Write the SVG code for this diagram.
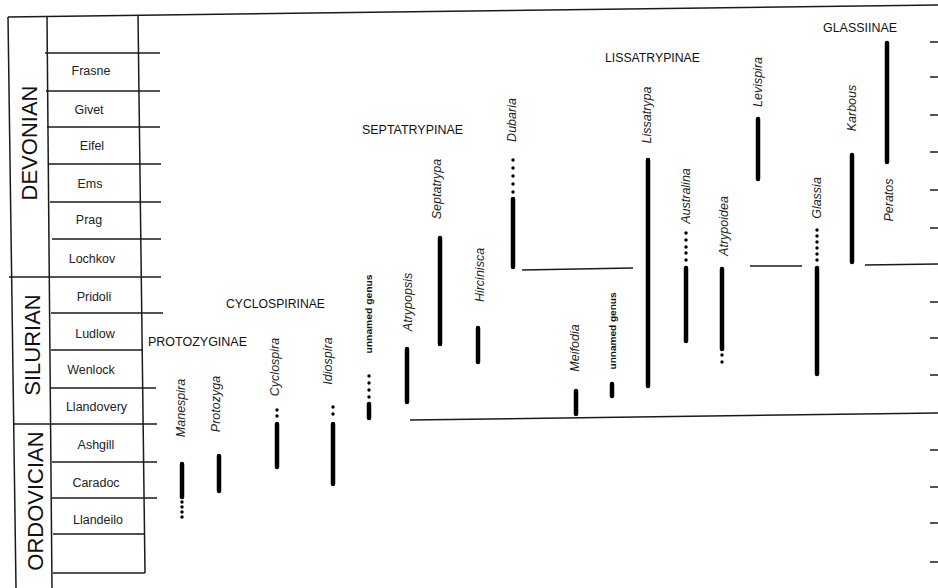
<svg xmlns="http://www.w3.org/2000/svg" width="938" height="588" viewBox="0 0 938 588">
<style>
.ln{stroke:#1a1a1a;stroke-width:1.5;fill:none}
.bar{stroke:#000;stroke-width:4.5;stroke-linecap:round}
.dot{fill:#000}
.era{font-family:"Liberation Sans",Arial,sans-serif;font-size:22px;fill:#111;text-anchor:middle}
.stg{font-family:"Liberation Sans",Arial,sans-serif;font-size:12.5px;fill:#222;text-anchor:middle}
.fam{font-family:"Liberation Sans",Arial,sans-serif;font-size:12px;fill:#111}
.gen{font-family:"Liberation Sans",Arial,sans-serif;font-size:12.5px;font-style:italic;fill:#222;text-anchor:middle}
.ung{font-family:"Liberation Sans",Arial,sans-serif;font-size:9px;font-weight:bold;fill:#111;text-anchor:middle}
</style>
<rect width="938" height="588" fill="#fff"/>

<g id="timescale">
  <line class="ln" x1="8" y1="17" x2="938" y2="5"/>
  <line class="ln" x1="8" y1="17" x2="16" y2="588"/>
  <line class="ln" x1="47" y1="17" x2="52" y2="588"/>
  <line class="ln" x1="138" y1="15" x2="145" y2="573"/>
  <line class="ln" x1="45" y1="53" x2="160" y2="53"/>
  <line class="ln" x1="46" y1="91" x2="160" y2="91"/>
  <line class="ln" x1="47" y1="127" x2="160" y2="127"/>
  <line class="ln" x1="49" y1="164" x2="161" y2="164"/>
  <line class="ln" x1="50" y1="202" x2="161" y2="202"/>
  <line class="ln" x1="52" y1="239" x2="161" y2="239"/>
  <line class="ln" x1="9" y1="277" x2="161" y2="277"/>
  <line class="ln" x1="51" y1="313" x2="163" y2="313"/>
  <line class="ln" x1="51" y1="350" x2="143" y2="350"/>
  <line class="ln" x1="51" y1="388" x2="156" y2="388"/>
  <line class="ln" x1="13" y1="424" x2="157" y2="424"/>
  <line class="ln" x1="52" y1="462" x2="157" y2="462"/>
  <line class="ln" x1="52" y1="498" x2="157" y2="498"/>
  <line class="ln" x1="53" y1="534" x2="145" y2="534"/>
  <line class="ln" x1="53" y1="573" x2="145" y2="573"/>
  <text class="era" transform="translate(37,143) rotate(-90)">DEVONIAN</text>
  <text class="era" transform="translate(40,345) rotate(-90)">SILURIAN</text>
  <text class="era" transform="translate(43,501) rotate(-90)">ORDOVICIAN</text>
  <text class="stg" x="91" y="75">Frasne</text>
  <text class="stg" x="89" y="114">Givet</text>
  <text class="stg" x="92" y="149.5">Eifel</text>
  <text class="stg" x="90" y="187.5">Ems</text>
  <text class="stg" x="89" y="224">Prag</text>
  <text class="stg" x="92" y="262.5">Lochkov</text>
  <text class="stg" x="94" y="300.5">Pridoli</text>
  <text class="stg" x="95" y="337.5">Ludlow</text>
  <text class="stg" x="91" y="373.5">Wenlock</text>
  <text class="stg" x="96.5" y="410.5">Llandovery</text>
  <text class="stg" x="96" y="448.5">Ashgill</text>
  <text class="stg" x="96" y="486.5">Caradoc</text>
  <text class="stg" x="98" y="523.5">Llandeilo</text>
</g>

<g id="connectors">
  <line class="ln" x1="522" y1="270" x2="633" y2="268"/>
  <line class="ln" x1="750" y1="266" x2="802" y2="266"/>
  <line class="ln" x1="865" y1="265" x2="938" y2="264"/>
  <line class="ln" x1="410" y1="420" x2="938" y2="413"/>
  <g id="right-ticks">
    <line class="ln" x1="930" y1="42" x2="938" y2="42"/>
    <line class="ln" x1="930" y1="77" x2="938" y2="77"/>
    <line class="ln" x1="930" y1="115" x2="938" y2="115"/>
    <line class="ln" x1="930" y1="152" x2="938" y2="152"/>
    <line class="ln" x1="930" y1="190" x2="938" y2="190"/>
    <line class="ln" x1="930" y1="228" x2="938" y2="228"/>
    <line class="ln" x1="930" y1="302" x2="938" y2="302"/>
    <line class="ln" x1="930" y1="338" x2="938" y2="338"/>
    <line class="ln" x1="930" y1="375" x2="938" y2="375"/>
    <line class="ln" x1="930" y1="450" x2="938" y2="450"/>
    <line class="ln" x1="930" y1="487" x2="938" y2="487"/>
    <line class="ln" x1="930" y1="523" x2="938" y2="523"/>
    <line class="ln" x1="930" y1="562" x2="938" y2="562"/>
  </g>
</g>

<g id="families">
  <text class="fam" x="148" y="346" textLength="99" lengthAdjust="spacingAndGlyphs">PROTOZYGINAE</text>
  <text class="fam" x="226" y="308" textLength="99" lengthAdjust="spacingAndGlyphs">CYCLOSPIRINAE</text>
  <text class="fam" x="362" y="133.5" textLength="101" lengthAdjust="spacingAndGlyphs">SEPTATRYPINAE</text>
  <text class="fam" x="605" y="61.5" textLength="95" lengthAdjust="spacingAndGlyphs">LISSATRYPINAE</text>
  <text class="fam" x="823" y="31.5" textLength="74" lengthAdjust="spacingAndGlyphs">GLASSIINAE</text>
</g>

<g id="manespira">
  <text class="gen" transform="translate(185,408) rotate(-90)">Manespira</text>
  <line class="bar" x1="182" y1="464" x2="182" y2="497"/>
  <circle class="dot" cx="182" cy="502" r="1.7"/><circle class="dot" cx="182" cy="507" r="1.7"/>
  <circle class="dot" cx="182" cy="512" r="1.7"/><circle class="dot" cx="182" cy="517" r="1.7"/>
</g>
<g id="protozyga">
  <text class="gen" transform="translate(220,404) rotate(-90)">Protozyga</text>
  <line class="bar" x1="219" y1="456" x2="219" y2="491"/>
</g>
<g id="cyclospira">
  <text class="gen" transform="translate(279,367) rotate(-90)">Cyclospira</text>
  <circle class="dot" cx="277" cy="410" r="1.7"/><circle class="dot" cx="277" cy="416" r="1.7"/>
  <line class="bar" x1="277" y1="424" x2="277" y2="467"/>
</g>
<g id="idiospira">
  <text class="gen" transform="translate(332,361) rotate(-90)">Idiospira</text>
  <circle class="dot" cx="333" cy="407" r="1.7"/><circle class="dot" cx="333" cy="414" r="1.7"/>
  <line class="bar" x1="333" y1="424" x2="333" y2="484"/>
</g>
<g id="unnamed-genus-1">
  <text class="ung" transform="translate(372,314) rotate(-90)" textLength="79" lengthAdjust="spacingAndGlyphs">unnamed genus</text>
  <circle class="dot" cx="369" cy="376" r="1.7"/><circle class="dot" cx="369" cy="383" r="1.7"/>
  <circle class="dot" cx="369" cy="390" r="1.7"/><circle class="dot" cx="369" cy="397" r="1.7"/>
  <line class="bar" x1="369" y1="404" x2="369" y2="418"/>
</g>
<g id="atrypopsis">
  <text class="gen" transform="translate(412,302) rotate(-90)">Atrypopsis</text>
  <line class="bar" x1="407" y1="349" x2="407" y2="402"/>
</g>
<g id="septatrypa">
  <text class="gen" transform="translate(441,189) rotate(-90)">Septatrypa</text>
  <line class="bar" x1="440" y1="238" x2="440" y2="344"/>
</g>
<g id="hircinisca">
  <text class="gen" transform="translate(484,275) rotate(-90)">Hircinisca</text>
  <line class="bar" x1="478" y1="328" x2="478" y2="362"/>
</g>
<g id="dubaria">
  <text class="gen" transform="translate(516,120) rotate(-90)">Dubaria</text>
  <circle class="dot" cx="513" cy="160" r="1.7"/><circle class="dot" cx="513" cy="168" r="1.7"/>
  <circle class="dot" cx="513" cy="176" r="1.7"/><circle class="dot" cx="513" cy="184" r="1.7"/>
  <circle class="dot" cx="513" cy="192" r="1.7"/>
  <line class="bar" x1="513" y1="199" x2="513" y2="267"/>
</g>
<g id="meifodia">
  <text class="gen" transform="translate(579,348) rotate(-90)">Meifodia</text>
  <line class="bar" x1="576" y1="391" x2="576" y2="414"/>
</g>
<g id="unnamed-genus-2">
  <text class="ung" transform="translate(616,331) rotate(-90)" textLength="77" lengthAdjust="spacingAndGlyphs">unnamed genus</text>
  <line class="bar" x1="612" y1="384" x2="612" y2="396"/>
</g>
<g id="lissatrypa">
  <text class="gen" transform="translate(651,115) rotate(-90)">Lissatrypa</text>
  <line class="bar" x1="648" y1="160" x2="648" y2="386"/>
</g>
<g id="australina">
  <text class="gen" transform="translate(690,196) rotate(-90)">Australina</text>
  <circle class="dot" cx="686" cy="233" r="1.7"/><circle class="dot" cx="686" cy="240" r="1.7"/>
  <circle class="dot" cx="686" cy="247" r="1.7"/><circle class="dot" cx="686" cy="253" r="1.7"/>
  <circle class="dot" cx="686" cy="260" r="1.7"/>
  <line class="bar" x1="686" y1="268" x2="686" y2="341"/>
</g>
<g id="atrypoidea">
  <text class="gen" transform="translate(728,226) rotate(-90)">Atrypoidea</text>
  <line class="bar" x1="722" y1="269" x2="722" y2="349"/>
  <circle class="dot" cx="722" cy="355" r="1.7"/><circle class="dot" cx="722" cy="362" r="1.7"/>
</g>
<g id="levispira">
  <text class="gen" transform="translate(762,82) rotate(-90)">Levispira</text>
  <line class="bar" x1="758" y1="119" x2="758" y2="179"/>
</g>
<g id="glassia">
  <text class="gen" transform="translate(821,198) rotate(-90)">Glassia</text>
  <circle class="dot" cx="817" cy="230" r="1.7"/><circle class="dot" cx="817" cy="236" r="1.7"/>
  <circle class="dot" cx="817" cy="242" r="1.7"/><circle class="dot" cx="817" cy="248" r="1.7"/>
  <circle class="dot" cx="817" cy="254" r="1.7"/><circle class="dot" cx="817" cy="260" r="1.7"/>
  <line class="bar" x1="817" y1="268" x2="817" y2="374"/>
</g>
<g id="karbous">
  <text class="gen" transform="translate(856,108) rotate(-90)">Karbous</text>
  <line class="bar" x1="852" y1="155" x2="852" y2="262"/>
</g>
<g id="peratos">
  <text class="gen" transform="translate(893,200) rotate(-90)">Peratos</text>
  <line class="bar" x1="887" y1="43" x2="887" y2="162"/>
</g>
</svg>
